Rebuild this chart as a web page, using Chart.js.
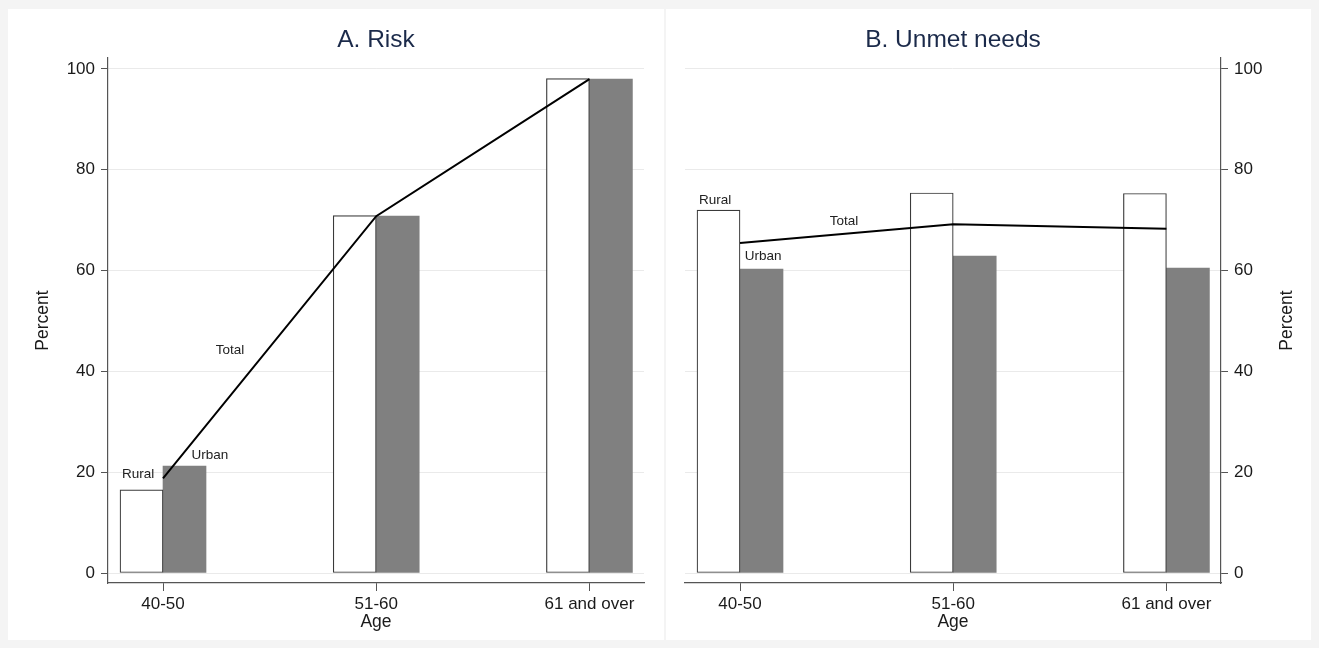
<!DOCTYPE html>
<html>
<head>
<meta charset="utf-8">
<title>Risk and unmet needs by age</title>
<script src="https://cdn.jsdelivr.net/npm/chart.js@4.4.1/dist/chart.umd.min.js"></script>
<style>
  html, body { margin: 0; padding: 0; }
  body { width: 1319px; height: 648px; background: #f4f4f4; position: relative; overflow: hidden; }
  .panel { position: absolute; top: 9px; height: 631px; background: #ffffff; }
  #panelA { left: 8px; width: 656px; }
  #panelB { left: 666px; width: 645px; }
  canvas { display: block; }
</style>
</head>
<body>
<div class="panel" id="panelA"><canvas id="risk" width="656" height="631"></canvas></div>
<div class="panel" id="panelB"><canvas id="needs" width="645" height="631"></canvas></div>
<script>
// Age groups on the x axis
const ageGroups = ['40-50', '51-60', '61 and over'];

// A. Risk (percent)
const riskRural = [16.5, 70.9, 98.1];
const riskUrban = [21.2, 70.8, 98.0];
const riskTotal = [18.8, 70.8, 98.0];

// B. Unmet needs (percent)
const needsRural = [72.0, 75.4, 75.3];
const needsUrban = [60.3, 62.9, 60.5];
const needsTotal = [65.5, 69.2, 68.3];

// Tick values for the percent axis
const percentTicks = [0, 20, 40, 60, 80, 100];

const FONT = '"Liberation Sans", Arial, Helvetica, sans-serif';
Chart.defaults.font.family = FONT;
Chart.defaults.font.size = 17;
Chart.defaults.color = '#1a1a1a';

const toPoints = vals => vals.map((v, i) => ({ x: i + 1, y: v }));

// Heading, rotated side title and in-plot text labels
const annotate = {
  id: 'annotate',
  afterDatasetsDraw(chart, args, opts) {
    const { ctx, chartArea, scales: { x, y } } = chart;
    ctx.save();
    ctx.textAlign = 'center';
    ctx.textBaseline = 'middle';

    ctx.fillStyle = '#1b2a4a';
    ctx.font = '24.5px ' + FONT;
    ctx.fillText(opts.heading, (chartArea.left + chartArea.right) / 2, opts.headingY);

    ctx.fillStyle = '#1a1a1a';
    ctx.font = '17.5px ' + FONT;
    ctx.save();
    ctx.translate(opts.sideX, (chartArea.top + chartArea.bottom) / 2);
    ctx.rotate(-Math.PI / 2);
    ctx.fillText('Percent', 0, 0);
    ctx.restore();

    ctx.font = '13.5px ' + FONT;
    ctx.fillStyle = '#222222';
    opts.labels.forEach(l => {
      ctx.fillText(l.text, x.getPixelForValue(l.x), y.getPixelForValue(l.y));
    });
    ctx.restore();
  }
};

function makeChart(id, rural, urban, total, side, heading, labels) {
  const left = side === 'left';
  return new Chart(document.getElementById(id), {
    type: 'bar',
    data: {
      datasets: [
        {
          type: 'line', label: 'Total', data: toPoints(total), order: 0,
          borderColor: '#000000', borderWidth: 2, pointRadius: 0, tension: 0, fill: false
        },
        {
          label: 'Rural', data: toPoints(rural), order: 1,
          backgroundColor: '#ffffff', borderColor: '#3a3a3a', borderWidth: 1.2, borderSkipped: false,
          barThickness: 43
        },
        {
          label: 'Urban', data: toPoints(urban), order: 1,
          backgroundColor: '#808080', borderWidth: 0,
          barThickness: 43
        }
      ]
    },
    options: {
      responsive: false,
      animation: false,
      events: [],
      layout: { padding: left ? { left: 0, right: 20, top: 49, bottom: 0 } : { left: 19, right: 0, top: 49, bottom: 0 } },
      plugins: {
        legend: { display: false },
        tooltip: { enabled: false },
        annotate: {
          heading: heading,
          headingY: 31,
          sideX: left ? 35 : 621,
          labels: labels
        }
      },
      scales: {
        x: {
          type: 'linear',
          position: 'bottom',
          offset: false,
          min: 0.742,
          max: 3.256,
          bounds: 'data',
          afterBuildTicks: s => { s.ticks = ageGroups.map((g, i) => ({ value: i + 1 })); },
          afterFit: s => { s.height = 57; },
          ticks: {
            autoSkip: false, maxRotation: 0, padding: 3,
            callback: v => ageGroups[Math.round(v) - 1]
          },
          grid: { offset: false, drawOnChartArea: false, tickLength: 8, tickColor: '#555555', tickWidth: 1 },
          border: { color: '#555555', width: 1.2 },
          title: { display: true, text: 'Age', font: { size: 17.5 }, padding: { top: 0, bottom: 7 } }
        },
        y: {
          type: 'linear',
          position: side,
          min: -1.98,
          max: 102.18,
          bounds: 'data',
          afterBuildTicks: s => { s.ticks = percentTicks.map(v => ({ value: v })); },
          afterFit: s => { s.width = left ? 100 : 90; },
          ticks: { padding: 6 },
          grid: { color: '#eaeaea', lineWidth: 1, tickLength: 7, tickColor: '#555555', tickWidth: 1 },
          border: { color: '#555555', width: 1.2 }
        }
      }
    },
    plugins: [annotate]
  });
}

makeChart('risk', riskRural, riskUrban, riskTotal, 'left', 'A. Risk', [
  { text: 'Rural', x: 0.883, y: 19.6 },
  { text: 'Urban', x: 1.220, y: 23.4 },
  { text: 'Total', x: 1.314, y: 44.2 }
]);

makeChart('needs', needsRural, needsUrban, needsTotal, 'right', 'B. Unmet needs', [
  { text: 'Rural', x: 0.883, y: 74.0 },
  { text: 'Urban', x: 1.108, y: 62.9 },
  { text: 'Total', x: 1.488, y: 69.8 }
]);
</script>
</body>
</html>
